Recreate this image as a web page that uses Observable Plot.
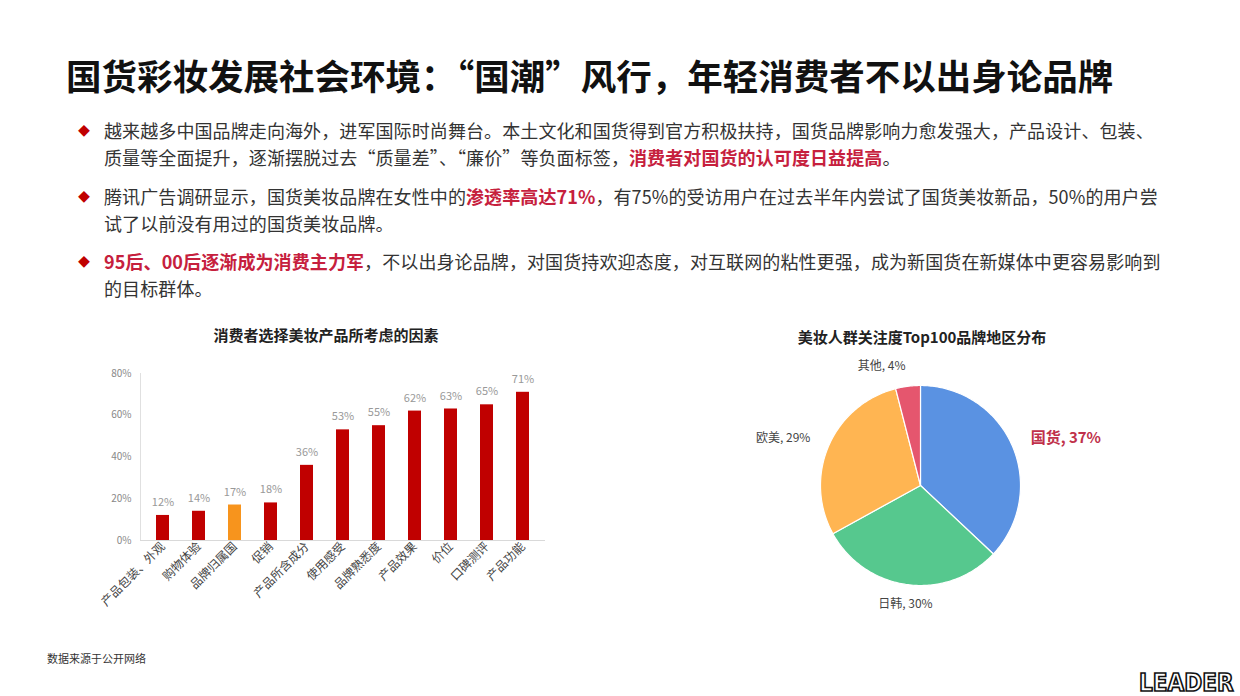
<!DOCTYPE html>
<html>
<head>
<meta charset="utf-8">
<script src="https://cdn.jsdelivr.net/npm/d3@7"></script>
<script src="https://cdn.jsdelivr.net/npm/@observablehq/plot@0.6"></script>
<style>
  html, body { margin: 0; padding: 0; background: #fff; }
  #page { position: relative; width: 1240px; height: 696px; background: #fff; overflow: hidden;
    font-family: "Noto Sans CJK SC", "Noto Sans", sans-serif; color: #333; }
  .abs { position: absolute; }
  #title { left: 66px; top: 50px; font-size: 35.5px; font-weight: 700; color: #111; white-space: nowrap; line-height: 50px; }
  #bullets { left: 78px; top: 117px; }
  .bullet { position: relative; padding-left: 26px; font-size: 18px; line-height: 27px; margin-bottom: 11.5px; white-space: nowrap; letter-spacing: 0.1px; }
  .bullet::before { content: "◆"; position: absolute; left: 0; top: 0; color: #c00000; font-size: 12px; }
  .hl { color: #c6203d; font-weight: 700; }
  .ctitle { font-size: 15px; font-weight: 700; color: #222; white-space: nowrap; transform: translateX(-50%); line-height: 20px; }
  #source { left: 47px; top: 650px; font-size: 11px; color: #333; }
  #logo { left: 1139px; top: 669px; font-family: "DejaVu Sans Condensed", sans-serif; font-size: 24px; font-weight: bold; color: #fff;
    -webkit-text-stroke: 1.6px #111; letter-spacing: 0px; line-height: 28px; }
</style>
</head>
<body>
<div id="page">
  <div id="title" class="abs">国货彩妆发展社会环境：“国潮”风行，年轻消费者不以出身论品牌</div>
  <div id="bullets" class="abs">
    <div class="bullet">越来越多中国品牌走向海外，进军国际时尚舞台。本土文化和国货得到官方积极扶持，国货品牌影响力愈发强大，产品设计、包装、<br>质量等全面提升，逐渐摆脱过去“质量差”、“廉价”等负面标签，<span class="hl">消费者对国货的认可度日益提高</span>。</div>
    <div class="bullet">腾讯广告调研显示，国货美妆品牌在女性中的<span class="hl">渗透率高达71%</span>，有75%的受访用户在过去半年内尝试了国货美妆新品，50%的用户尝<br>试了以前没有用过的国货美妆品牌。</div>
    <div class="bullet"><span class="hl">95后、00后逐渐成为消费主力军</span>，不以出身论品牌，对国货持欢迎态度，对互联网的粘性更强，成为新国货在新媒体中更容易影响到<br>的目标群体。</div>
  </div>
  <div class="abs ctitle" style="left:326px; top:325px;">消费者选择美妆产品所考虑的因素</div>
  <div class="abs ctitle" style="left:922px; top:327px;">美妆人群关注度Top100品牌地区分布</div>
  <div id="bar" class="abs" style="left:70px; top:360px;"></div>
  <div id="pie" class="abs" style="left:720px; top:350px;"></div>
  <div id="source" class="abs">数据来源于公开网络</div>
  <div id="logo" class="abs">LEADER</div>
</div>
<script>
// ---- Data ----
const factors = ["产品包装、外观", "购物体验", "品牌归属国", "促销", "产品所含成分", "使用感受", "品牌熟悉度", "产品效果", "价位", "口碑测评", "产品功能"];
const factorValues = [12, 14, 17, 18, 36, 53, 55, 62, 63, 65, 71];
const highlightFactor = "品牌归属国";
const yTicks = [0, 20, 40, 60, 80];

const regions = ["国货", "日韩", "欧美", "其他"];
const regionShares = [37, 30, 29, 4];
const regionColors = ["#5a92e2", "#56c88e", "#ffb552", "#e5566e"];
const highlightRegion = "国货";

// ---- Bar chart ----
const barData = factors.map((f, i) => ({ factor: f, value: factorValues[i] }));
const barRed = "#c00000", barOrange = "#f7941d";

const bar = Plot.plot({
  width: 490, height: 270,
  marginLeft: 70, marginRight: 15, marginTop: 13, marginBottom: 90,
  style: { fontFamily: "'Noto Sans CJK SC', sans-serif", background: "transparent", overflow: "visible" },
  x: { domain: factors, paddingInner: 0.65, paddingOuter: 0.3, label: null },
  y: { domain: [0, 80], label: null },
  marks: [
    Plot.frame({ anchor: "left", stroke: "#e0e0e0" }),
    Plot.ruleY([0], { stroke: "#d9d9d9" }),
    Plot.barY(barData, { x: "factor", y: "value", fill: d => d.factor === highlightFactor ? barOrange : barRed }),
    Plot.text(barData, { x: "factor", y: "value", text: d => d.value + "%", dy: -13, fill: "#999999", fontSize: 11 }),
    Plot.axisY({ ticks: yTicks, tickFormat: d => d + "%", tickSize: 0, tickPadding: 9, fill: "#888", fontSize: 10, label: null }),
    Plot.axisX({ tickRotate: -45, tickSize: 0, tickPadding: 4, fill: "#444", fontSize: 12, label: null })
  ]
});
document.getElementById("bar").appendChild(bar);

// ---- Pie chart ----
const pieInput = regions.map((r, i) => ({ name: r, value: regionShares[i] }));
const arcs = d3.pie().sort(null).value(d => d.value)(pieInput);
const polys = arcs.flatMap(a => {
  const n = Math.max(2, Math.ceil((a.endAngle - a.startAngle) / (Math.PI / 180)));
  const pts = [{ name: a.data.name, x: 0, y: 0 }];
  for (let i = 0; i <= n; i++) {
    const t = a.startAngle + (a.endAngle - a.startAngle) * i / n;
    pts.push({ name: a.data.name, x: Math.sin(t), y: Math.cos(t) });
  }
  pts.push({ name: a.data.name, x: 0, y: 0 });
  return pts;
});
const labelR = 1.2;
const labels = arcs.map(a => {
  const m = (a.startAngle + a.endAngle) / 2;
  const s = Math.sin(m), c = Math.cos(m);
  const anchor = c < -0.9 ? "middle" : (s < 0 ? "end" : "start");
  return { name: a.data.name, text: `${a.data.name}, ${a.data.value}%`, x: labelR * s, y: labelR * c, anchor };
});
const labelMarks = [];
for (const anchor of ["start", "middle", "end"]) {
  const normal = labels.filter(d => d.anchor === anchor && d.name !== highlightRegion);
  const hi = labels.filter(d => d.anchor === anchor && d.name === highlightRegion);
  if (normal.length) labelMarks.push(Plot.text(normal, { x: "x", y: "y", text: "text", textAnchor: anchor, fill: "#444", fontSize: 12 }));
  if (hi.length) labelMarks.push(Plot.text(hi, { x: "x", y: "y", text: "text", textAnchor: anchor, fill: "#c0304a", fontSize: 15, fontWeight: "bold" }));
}

const pie = Plot.plot({
  width: 400, height: 270,
  margin: 0,
  style: { fontFamily: "'Noto Sans CJK SC', sans-serif", background: "transparent" },
  x: { domain: [-2, 2], axis: null },
  y: { domain: [-1.35, 1.35], axis: null },
  color: { domain: regions, range: regionColors },
  marks: [
    Plot.line(polys, { x: "x", y: "y", z: "name", fill: "name", stroke: "#fff", strokeWidth: 1.2, curve: "linear" }),
    ...labelMarks
  ]
});
document.getElementById("pie").appendChild(pie);
</script>
</body>
</html>
